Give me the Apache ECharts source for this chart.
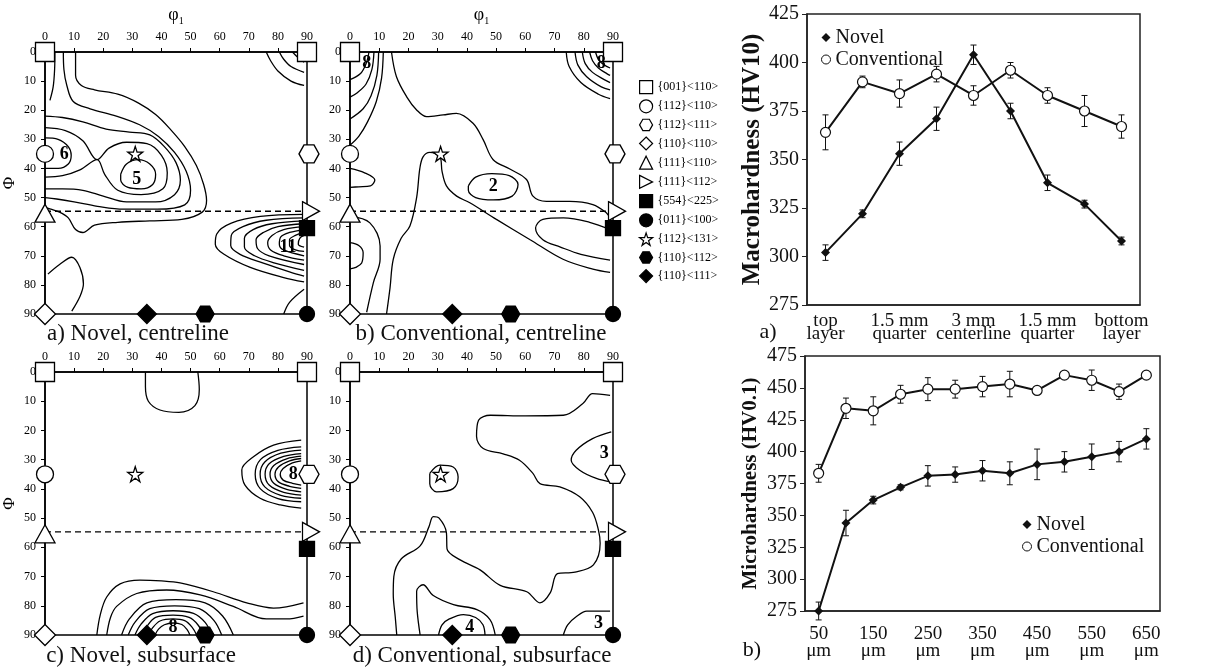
<!DOCTYPE html>
<html>
<head>
<meta charset="utf-8">
<script src="https://cdn.jsdelivr.net/npm/echarts@6/dist/echarts.min.js"></script>
<style>
  html, body { margin: 0; padding: 0; background: #fff; }
  #chart { width: 1220px; height: 667px; }
</style>
</head>
<body>
<div id="chart"></div>
<script>
// ---- ODF sections (phi1, Phi) ----
const dashedPhi = 54.7;

const componentNames = ['{001}<110>', '{112}<110>', '{112}<111>', '{110}<110>', '{111}<110>', '{111}<112>',
  '{554}<225>', '{011}<100>', '{112}<131>', '{110}<112>', '{110}<111>'];
const componentPositions = [
  [[0, 0], [90, 0]], [[0, 35]], [[90, 35]], [[0, 90]], [[0, 54.7]], [[90, 54.7]],
  [[90, 60.5]], [[90, 90]], [[31, 35]], [[55, 90]], [[35, 90]]
];

// a) Novel, centreline
const contoursA = [
  [[3.4, 0], [3.3, 6], [2.8, 12], [1.7, 16.6]],
  [[10.5, 0], [10.5, 8], [12.5, 11.5], [17, 13], [25, 14.5], [32, 17.5], [38, 21.5], [43, 26.5], [48, 32.5], [52, 39], [54.5, 45.5], [55.5, 51], [54, 55], [47, 57.5], [36, 58], [25, 58.5], [17, 59.5], [13, 62], [10.5, 61], [8, 57], [5, 55], [2, 54], [0, 53.5]],
  [[6.3, 0], [6.5, 6], [7.5, 11.5], [9.7, 17], [15.5, 19.5], [24.5, 22], [32.5, 25], [39, 29], [44.5, 34.5], [48.5, 41], [50, 47.5], [48, 52.5], [38.5, 54], [27, 54], [18, 53], [10, 51.5], [4, 50.5], [0, 50]],
  [[0, 22], [6, 22.5], [13, 24], [21, 26.5], [29, 27.5], [36, 28.5], [41, 32.5], [45, 38], [46.5, 44], [44.5, 49], [38, 51.5], [28, 51.5], [20, 49.5], [13, 47.5], [6, 47], [0, 47]],
  [[0, 26], [7, 27], [13, 30.5], [17.9, 37], [22, 33], [28, 31], [35, 31.5], [40, 35.5], [42, 41.5], [40.5, 47], [33, 49], [25, 47.5], [20.5, 42], [17.9, 37], [12, 40.5], [6, 42.5], [0, 43]],
  [[0, 29.5], [4.5, 30], [8, 32.5], [9, 35.5], [8, 38.5], [4.5, 40], [0, 40]],
  [[26, 42], [28, 38.5], [32, 37], [36, 38.5], [38, 42], [37, 45.5], [33, 47], [28.5, 46.5], [26, 44], [26, 42]],
  [[89, 55.8], [74, 56.5], [64, 58.8], [59, 62.5], [58.5, 66], [61.5, 69.5], [70.5, 74], [82, 77.5], [89, 79]],
  [[89, 57], [76, 57.8], [68, 60], [64, 63], [63.8, 66.5], [67, 69.5], [75, 72.5], [84, 75.5], [89, 77]],
  [[89, 58], [78, 59], [71.5, 61], [68.5, 64], [68.5, 67], [72, 70], [79, 72.5], [89, 75]],
  [[89, 59], [80, 60], [75, 62], [72.5, 64.5], [73, 67.5], [77, 70], [89, 73]],
  [[89, 60], [82, 61], [78, 63], [76.5, 65.5], [77.5, 68], [82, 70], [89, 71.5]],
  [[89, 61], [84, 62], [81, 63.5], [80.5, 66], [82, 68], [89, 70]],
  [[89, 62], [86, 63], [84, 64.5], [84, 66.5], [86, 68], [89, 68.5]],
  [[89, 63], [87.5, 64], [87, 66], [89, 67]],
  [[82, 90], [84, 86], [89, 81.5]],
  [[76, 0], [77.5, 3], [80, 6.5], [84.5, 10], [89, 11.5]],
  [[80.5, 0], [82, 2.5], [84.5, 5], [89, 7]],
  [[85, 0], [87, 2], [89, 3.5]],
  [[1, 76.3], [5, 73], [9.2, 70.5], [12, 74], [13.2, 79.7], [12, 84], [9.2, 89]]
];
const labelsA = [[6.6, 35, 6], [31.5, 43.6, 5], [83.5, 67, 11]];

// b) Conventional, centreline
const contoursB = [
  [[11.4, 0], [10.8, 9], [9, 17], [6, 24], [3, 29], [0, 32]],
  [[9.8, 0], [9.2, 8], [7.2, 15], [4.5, 19.5], [0, 23]],
  [[8.2, 0], [7.5, 6], [5.5, 11], [2.5, 14], [0, 15.5]],
  [[6.5, 0], [5.5, 4], [3.5, 7.5], [0, 9.5]],
  [[14.2, 0], [15.9, 8.5], [19.4, 15.4], [22.8, 19.9], [26.2, 22.2], [31.9, 21.6], [36.4, 21.1], [42.1, 24.5], [45.6, 30.2], [49, 37], [54.7, 40.2], [60.4, 43.8], [62.6, 49.5], [67.2, 51.3], [75.2, 51.3], [83.1, 52.4], [87.7, 55.2], [89, 57]],
  [[12.5, 90], [13.7, 81], [14.8, 71.2], [17.5, 64], [20.5, 59.8], [22.8, 50], [23.9, 40], [25, 36], [27.3, 34.5], [30.8, 36], [31.5, 41], [33, 46], [36.5, 49.5], [41, 51.8], [50.1, 57.5], [61.5, 64.4], [72.9, 71.2], [83.1, 74.6], [89, 75.7]],
  [[0, 56.4], [6.8, 58.7], [10.3, 66.6], [10.3, 71.2], [8, 79.2], [5.7, 89.4]],
  [[0, 65.5], [3, 66.5], [4.5, 69], [4, 72.5], [2, 74], [0, 74.5]],
  [[0, 40], [5, 41.5], [8.5, 44], [7, 46], [3, 46.3], [0, 46.5]],
  [[40.5, 46], [43, 43], [48.5, 41.8], [54.5, 42.5], [57.5, 45.5], [55.5, 49.5], [49, 50.8], [43, 50], [40.5, 47.5], [40.5, 46]],
  [[89, 61], [82, 58.5], [73, 57], [66, 57.5], [63.5, 60.5], [66, 64.5], [72, 67], [79, 69.5], [89, 71.5]],
  [[74, 0], [75, 5], [79, 10.5], [85, 14.5], [89, 16]],
  [[77, 0], [78, 4.5], [81, 8.5], [86, 12], [89, 13]],
  [[79.5, 0], [80.5, 4], [83, 7], [87, 9.5], [89, 10.5]],
  [[82, 0], [83, 3], [85, 5.5], [88, 7.5], [89, 8]],
  [[84, 0], [85, 2.5], [87, 4.5], [89, 5.5]]
];
const labelsB = [[5.7, 3.8, 8], [86, 3.8, 8], [49, 46.3, 2]];

// c) Novel, subsurface
const contoursC = [
  [[34.5, 0], [34.5, 5], [35.5, 10], [39.5, 13], [46, 13.8], [51.5, 11.5], [53, 6], [52.5, 0]],
  [[88, 23.3], [78.5, 25], [71.6, 29], [67.6, 33.5], [68.7, 38.7], [73.9, 43.2], [80.8, 45.5], [88, 46.6]],
  [[88, 25.6], [80, 26.8], [74, 30], [72.2, 35], [74, 40], [80, 43.3], [88, 44.4]],
  [[88, 26.7], [81, 27.8], [75.5, 30.8], [73.9, 35], [75.5, 39.3], [81, 42.2], [88, 43.2]],
  [[88, 27.9], [82, 28.9], [77, 31.4], [75.6, 35], [77, 38.7], [82, 41.2], [88, 42.1]],
  [[88, 28.8], [83, 29.7], [78.6, 32], [77.3, 35], [78.6, 38.1], [83, 40.2], [88, 41]],
  [[88, 29.6], [84, 30.4], [80.2, 32.5], [79, 35], [80.2, 37.6], [84, 39.1], [88, 39.8]],
  [[88, 30.4], [85, 31.1], [81.8, 33], [80.8, 35], [81.8, 37], [85, 38.1], [88, 38.7]],
  [[17.8, 90], [19, 83], [21.2, 77], [25.8, 72.5], [32.6, 71.2], [40, 71.5], [46.4, 72.2], [57.8, 75.2], [69.3, 79], [78.5, 80.8], [88.8, 79]],
  [[21.2, 90], [22.5, 84], [24.6, 80.2], [31.5, 75.8], [41.8, 74.6], [53.3, 76.3], [64.7, 80.2], [76, 84.5], [83, 84.5], [88.8, 83.5]],
  [[26.3, 90], [29, 84.5], [35, 79], [45, 77.9], [55, 79], [61, 83.5], [64.7, 90]],
  [[28.6, 90], [31, 85.5], [36, 81], [44.5, 80], [53, 81], [58, 85], [60.7, 90]],
  [[30.9, 90], [33, 86.3], [37, 82.7], [44, 81.7], [51, 82.6], [55, 85.7], [57.3, 90]],
  [[33.2, 90], [35, 87], [38, 84], [44, 83.2], [49.5, 84], [52.5, 86.5], [54.4, 90]],
  [[35.5, 90], [37, 87.5], [39.5, 85.2], [44, 84.5], [48, 85.1], [50.5, 87.3], [52.1, 90]],
  [[37.8, 90], [39, 88], [41, 86.5], [44, 85.9], [47, 86.4], [48.7, 88], [49.8, 90]]
];
const labelsC = [[85.3, 35, 8], [44, 87.5, 8]];

// d) Conventional, subsurface
const contoursD = [
  [[89, 8], [83, 7.4], [79.7, 10.8], [73, 14.8], [60, 15], [48, 14.8], [44, 16.5], [43.3, 22], [45.6, 26.2], [52.4, 28], [58, 30.2], [62.6, 34.7], [65, 38.2], [71.8, 39.3], [78.6, 42.7], [83, 48], [85, 54], [85.6, 58.6], [83.3, 66], [77, 68.5], [71, 69], [68.5, 75.6], [65, 79], [60.5, 75.2], [51.4, 73], [44.5, 67.7], [37.7, 64.3], [33.2, 60.5], [33, 55], [30.5, 50], [28.5, 49.5], [27, 53], [24, 59.5], [17.5, 64], [15, 70], [14.8, 76], [15.5, 84], [16, 90]],
  [[24, 90], [23, 82], [22.8, 75], [25, 72.8], [28.5, 76.5], [35.4, 79.6], [43.4, 81.3], [47.9, 84.7], [49.7, 90]],
  [[30.3, 90], [31.5, 86.5], [34, 84.5], [38.8, 83], [43, 84], [45.5, 86.5], [46.2, 90]],
  [[73, 90], [74.5, 86.5], [77.6, 83.6], [81, 81.8], [89, 81.8]],
  [[89.4, 20.5], [83, 22.8], [77.4, 26.8], [75.7, 30.2], [78.6, 33.6], [84.3, 36.4], [89.4, 37.6]],
  [[27.3, 34.7], [30.8, 31.9], [35.3, 32.5], [37, 35.9], [35.3, 39.9], [29.6, 41], [27.3, 38.2], [27.3, 34.7]]
];
const labelsD = [[87, 28, 3], [41, 87.5, 4], [85, 86, 3]];

// ---- hardness profiles ----
const macroLabels = ['top\nlayer', '', '1.5 mm\nquarter', '', '3 mm\ncenterline', '', '1.5 mm\nquarter', '', 'bottom\nlayer'];
const macroNovel = [302, 322, 353, 371, 404, 375, 338, 327, 308];
const macroNovelErr = [4, 2, 6, 6, 5, 4, 4, 2, 2];
const macroConv = [364, 390, 384, 394, 383, 396, 383, 375, 367];
const macroConvErr = [9, 3, 7, 4, 5, 4, 4, 8, 6];

const microLabels = ['50\nμm', '100\nμm', '150\nμm', '200\nμm', '250\nμm', '300\nμm', '350\nμm',
  '400\nμm', '450\nμm', '500\nμm', '550\nμm', '600\nμm', '650\nμm'];
const microNovel = [275, 344, 362, 372, 381, 382, 385, 383, 390, 392, 396, 400, 410];
const microNovelErr = [7, 10, 3, 2, 8, 6, 8, 9, 12, 8, 10, 8, 8];
const microConv = [383, 434, 432, 445, 449, 449, 451, 453, 448, 460, 456, 447, 460];
const microConvErr = [7, 8, 11, 7, 9, 7, 8, 10, 0, 0, 8, 6, 0];

const FONT = "'Liberation Serif', 'DejaVu Serif', serif";
const HEX = 'path://M0,4.33L2.5,0L7.5,0L10,4.33L7.5,8.66L2.5,8.66Z';
const STAR = 'path://M5,0L6.2,3.6L10,3.6L6.9,5.9L8.1,9.5L5,7.3L1.9,9.5L3.1,5.9L0,3.6L3.8,3.6Z';
const RTRI = 'path://M0,0L10,5L0,10Z';

// marker look for each texture component (same order as componentNames)
const compStyles = [
  {symbol: 'rect', size: 19, fill: '#fff', icon: 'rect'},
  {symbol: 'circle', size: 17, fill: '#fff', icon: 'circle'},
  {symbol: HEX, size: [20, 18], fill: '#fff', icon: HEX, offset: [2, 0]},
  {symbol: 'diamond', size: [21, 21], fill: '#fff', icon: 'diamond'},
  {symbol: 'triangle', size: [20, 18], fill: '#fff', icon: 'triangle', offset: [0, 2]},
  {symbol: RTRI, size: [17, 19], fill: '#fff', icon: RTRI, offset: [4, 0]},
  {symbol: 'rect', size: 15, fill: '#000', icon: 'rect'},
  {symbol: 'circle', size: 15, fill: '#000', icon: 'circle'},
  {symbol: STAR, size: 15, fill: '#fff', icon: STAR},
  {symbol: HEX, size: [18, 16], fill: '#000', icon: HEX},
  {symbol: 'diamond', size: [19, 19], fill: '#000', icon: 'diamond'}
];

const panels = [
  {left: 45, top: 52, width: 262, height: 262, phi1: true, phi: true, curves: contoursA, labels: labelsA},
  {left: 350, top: 52, width: 263, height: 262, phi1: true, phi: false, curves: contoursB, labels: labelsB},
  {left: 45, top: 372, width: 262, height: 263, phi1: false, phi: true, curves: contoursC, labels: labelsC},
  {left: 350, top: 372, width: 263, height: 263, phi1: false, phi: false, curves: contoursD, labels: labelsD}
];

const grid = [];
const xAxis = [];
const yAxis = [];
const series = [];

panels.forEach((p, g) => {
  grid.push({left: p.left, top: p.top, width: p.width, height: p.height,
    show: true, borderColor: '#000', borderWidth: 1.5});
  xAxis.push({
    gridIndex: g, type: 'value', position: 'top', min: 0, max: 90, interval: 10,
    name: p.phi1 ? '{m|φ}{s|1}' : '', nameLocation: 'middle', nameGap: 26,
    nameTextStyle: {rich: {
      m: {fontFamily: FONT, fontSize: 18, color: '#000'},
      s: {fontFamily: FONT, fontSize: 10, color: '#000', padding: [12, 0, 0, 0]}
    }},
    axisLine: {lineStyle: {color: '#000', width: 1.5}},
    axisTick: {length: 4, lineStyle: {color: '#000'}},
    axisLabel: {fontFamily: FONT, fontSize: 12, color: '#000', margin: 9},
    splitLine: {show: false}
  });
  yAxis.push({
    gridIndex: g, type: 'value', inverse: true, min: 0, max: 90, interval: 10,
    name: p.phi ? 'Φ' : '', nameLocation: 'middle', nameRotate: 90, nameGap: 27,
    nameTextStyle: {fontFamily: FONT, fontSize: 17, color: '#000'},
    axisLine: {lineStyle: {color: '#000', width: 1.5}},
    axisTick: {length: 4, lineStyle: {color: '#000'}},
    axisLabel: {fontFamily: FONT, fontSize: 12, color: '#000', margin: 9},
    splitLine: {show: false}
  });

  p.curves.forEach(pts => {
    series.push({
      type: 'line', xAxisIndex: g, yAxisIndex: g, data: pts, smooth: 0.35,
      symbol: 'none', silent: true, z: 2,
      lineStyle: {color: '#000', width: 1.3}
    });
  });

  series.push({
    type: 'line', xAxisIndex: g, yAxisIndex: g, data: [[0, dashedPhi], [90, dashedPhi]],
    symbol: 'none', silent: true, z: 2,
    lineStyle: {color: '#000', width: 1.3, type: [6, 4]}
  });

  componentNames.forEach((name, k) => {
    const st = compStyles[k];
    series.push({
      type: 'scatter', name: name, xAxisIndex: g, yAxisIndex: g,
      data: componentPositions[k], symbol: st.symbol, symbolSize: st.size,
      symbolOffset: st.offset || [0, 0], clip: false, silent: true, z: 6,
      itemStyle: {color: st.fill, borderColor: '#000', borderWidth: 1.3, opacity: 1}
    });
  });

  series.push({
    type: 'custom', xAxisIndex: g, yAxisIndex: g, data: p.labels, silent: true, z: 8,
    encode: {x: 0, y: 1},
    renderItem: (params, api) => {
      const pt = api.coord([api.value(0), api.value(1)]);
      return {
        type: 'text', x: pt[0], y: pt[1],
        style: {text: String(api.value(2)), fill: '#000', align: 'center', verticalAlign: 'middle',
          font: 'bold 18px ' + FONT}
      };
    }
  });
});

// hardness grids
grid.push({left: 807, top: 14, width: 333, height: 291, show: true, borderColor: '#222', borderWidth: 1.5});
grid.push({left: 805, top: 356, width: 355, height: 255, show: true, borderColor: '#222', borderWidth: 1.5});

function catAxis(g, labels, interval, margin, lineHeight) {
  return {
    gridIndex: g, type: 'category', data: labels.map((_, i) => i), boundaryGap: true,
    axisLine: {lineStyle: {color: '#222', width: 1.5}},
    axisTick: {show: false},
    axisLabel: {interval: interval, margin: margin, fontFamily: FONT, fontSize: 19, color: '#111',
      lineHeight: lineHeight, formatter: (v, i) => labels[i]},
    splitLine: {show: false}
  };
}
function valAxis(g, min, max, name, nameSize, nameGap) {
  return {
    gridIndex: g, type: 'value', min: min, max: max, interval: 25,
    name: name, nameLocation: 'middle', nameGap: nameGap,
    nameTextStyle: {fontFamily: FONT, fontSize: nameSize, fontWeight: 'bold', color: '#111'},
    axisLine: {show: true, lineStyle: {color: '#222', width: 1.5}},
    axisTick: {show: true, length: 5, lineStyle: {color: '#222'}},
    axisLabel: {fontFamily: FONT, fontSize: 20, color: '#111', margin: 8},
    splitLine: {show: false}
  };
}
xAxis.push(catAxis(4, macroLabels, 0, 10, 13));
xAxis.push(catAxis(5, microLabels, 1, 15, 17));
yAxis.push(valAxis(4, 275, 425, 'Macrohardness (HV10)', 25, 40));
yAxis.push(valAxis(5, 275, 475, 'Microhardness (HV0.1)', 21, 44));

function errorBar(params, api) {
  const x = api.value(0);
  const lo = api.coord([x, api.value(1)]);
  const hi = api.coord([x, api.value(2)]);
  const w = 3;
  const style = {stroke: '#111', lineWidth: 1};
  return {type: 'group', children: [
    {type: 'line', shape: {x1: lo[0], y1: lo[1], x2: hi[0], y2: hi[1]}, style: style},
    {type: 'line', shape: {x1: lo[0] - w, y1: lo[1], x2: lo[0] + w, y2: lo[1]}, style: style},
    {type: 'line', shape: {x1: hi[0] - w, y1: hi[1], x2: hi[0] + w, y2: hi[1]}, style: style}
  ]};
}

function hardnessSeries(g, novel, novelErr, conv, convErr) {
  return [
    {type: 'custom', xAxisIndex: g, yAxisIndex: g, silent: true, z: 1, encode: {x: 0, y: [1, 2]},
      data: novel.map((v, i) => [i, v - novelErr[i], v + novelErr[i]]), renderItem: errorBar},
    {type: 'custom', xAxisIndex: g, yAxisIndex: g, silent: true, z: 1, encode: {x: 0, y: [1, 2]},
      data: conv.map((v, i) => [i, v - convErr[i], v + convErr[i]]), renderItem: errorBar},
    {type: 'line', name: 'Novel', xAxisIndex: g, yAxisIndex: g, data: novel, z: 3,
      symbol: 'diamond', symbolSize: 9, itemStyle: {color: '#111'},
      lineStyle: {color: '#111', width: 2}},
    {type: 'line', name: 'Conventional', xAxisIndex: g, yAxisIndex: g, data: conv, z: 3,
      symbol: 'circle', symbolSize: 10, itemStyle: {color: '#fff', borderColor: '#111', borderWidth: 1.2},
      lineStyle: {color: '#111', width: 2}}
  ];
}
series.push(...hardnessSeries(4, macroNovel, macroNovelErr, macroConv, macroConvErr));
series.push(...hardnessSeries(5, microNovel, microNovelErr, microConv, microConvErr));

const hardLegendData = [
  {name: 'Novel', icon: 'diamond', itemStyle: {color: '#111', borderWidth: 0}},
  {name: 'Conventional', icon: 'circle', itemStyle: {color: '#fff', borderColor: '#111', borderWidth: 1}}
];

const option = {
  animation: false,
  backgroundColor: '#fff',
  grid: grid,
  xAxis: xAxis,
  yAxis: yAxis,
  legend: [
    {
      left: 634, top: 75, orient: 'vertical', itemGap: 5, itemWidth: 13, itemHeight: 13,
      selectedMode: false,
      textStyle: {fontFamily: FONT, fontSize: 12, color: '#000', lineHeight: 13},
      data: componentNames.map((n, k) => ({
        name: n, icon: compStyles[k].icon,
        itemStyle: {color: compStyles[k].fill, borderColor: '#000', borderWidth: 1.2}
      }))
    },
    {
      left: 816, top: 22, orient: 'vertical', itemGap: 1, itemWidth: 9, itemHeight: 9,
      selectedMode: false, textStyle: {fontFamily: FONT, fontSize: 20, color: '#111', lineHeight: 21},
      data: hardLegendData
    },
    {
      left: 1017, top: 509, orient: 'vertical', itemGap: 1, itemWidth: 9, itemHeight: 9,
      selectedMode: false, textStyle: {fontFamily: FONT, fontSize: 20, color: '#111', lineHeight: 21},
      data: hardLegendData
    }
  ],
  graphic: [
    {type: 'text', x: 138, y: 334, style: {text: 'a) Novel, centreline', font: '23px ' + FONT, fill: '#111', align: 'center', verticalAlign: 'middle'}},
    {type: 'text', x: 481, y: 334, style: {text: 'b) Conventional, centreline', font: '23px ' + FONT, fill: '#111', align: 'center', verticalAlign: 'middle'}},
    {type: 'text', x: 141, y: 656, style: {text: 'c) Novel, subsurface', font: '23px ' + FONT, fill: '#111', align: 'center', verticalAlign: 'middle'}},
    {type: 'text', x: 482, y: 656, style: {text: 'd) Conventional, subsurface', font: '23px ' + FONT, fill: '#111', align: 'center', verticalAlign: 'middle'}},
    {type: 'text', x: 768, y: 332, style: {text: 'a)', font: '22px ' + FONT, fill: '#111', align: 'center', verticalAlign: 'middle'}},
    {type: 'text', x: 752, y: 650, style: {text: 'b)', font: '22px ' + FONT, fill: '#111', align: 'center', verticalAlign: 'middle'}}
  ],
  series: series
};

const chart = echarts.init(document.getElementById('chart'));
chart.setOption(option);
</script>
</body>
</html>
